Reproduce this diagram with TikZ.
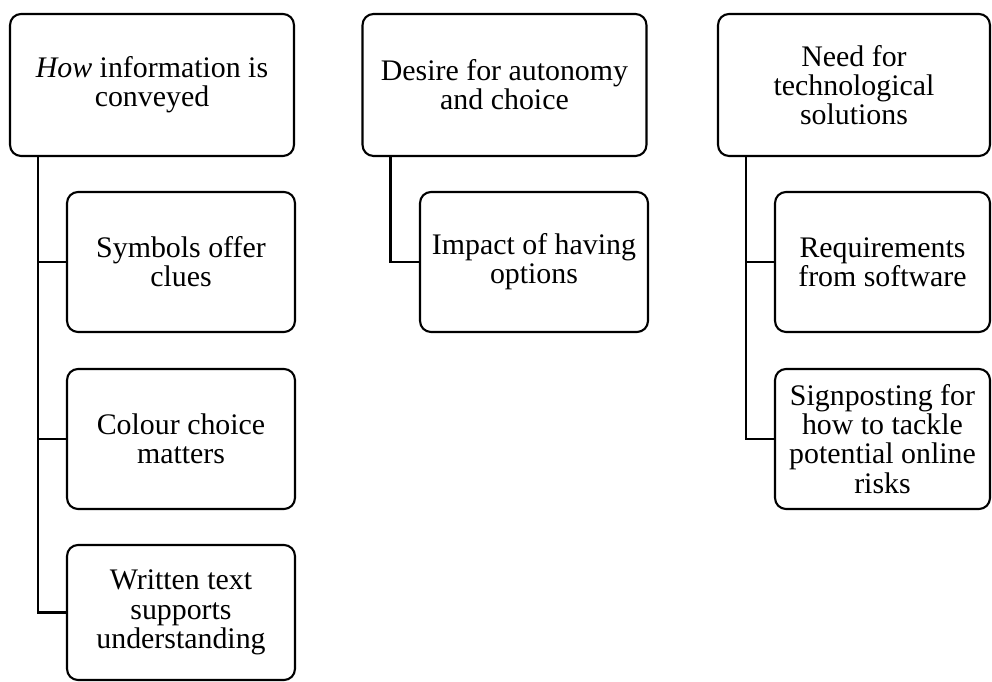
\documentclass[tikz,border=0pt]{standalone}
\usepackage{fontspec}
\setmainfont{Liberation Serif}
\usetikzlibrary{calc, positioning}

\tikzset{
    themebox/.style={
        draw=black,
        line width=1.2pt,
        rounded corners=0.22cm,
        align=center,
        inner sep=0pt,
        minimum width=5.68cm,
        minimum height=2.84cm,
        font=\fontsize{17}{16.6}\selectfont,
    },
    subbox/.style={
        themebox,
        minimum width=4.56cm,
        minimum height=2.8cm,
    },
    branch/.style={line width=1.4pt},
}

\begin{document}
\begin{tikzpicture}[x=0.02cm, y=-0.02cm]

    \useasboundingbox (0,0) rectangle (992,682);

    \def\ytop{85}
    \def\yone{262}
    \def\ytwo{439}
    \def\ythree{612.5}

    \node[themebox] (how) at (152,\ytop) {\emph{How} information is\\conveyed};
    \node[subbox] (symbols) at (181,\yone) {Symbols offer\\clues};
    \node[subbox] (colour) at (181,\ytwo) {Colour choice\\matters};
    \node[subbox, minimum height=2.7cm] (written) at (181,\ythree)
        {Written text\\supports\\understanding};

    \node[themebox] (desire) at (504.5,\ytop) {Desire for autonomy\\and choice};
    \node[subbox] (impact) at (534,\yone) {Impact of having\\options};

    \node[themebox, minimum width=5.44cm] (need) at (854,\ytop)
        {Need for\\technological\\solutions};
    \node[subbox, minimum width=4.3cm] (requirements) at (882.5,\yone)
        {Requirements\\from software};
    \node[subbox, minimum width=4.3cm] (signposting) at (882.5,\ytwo)
        {Signposting for\\how to tackle\\potential online\\risks};

    \draw[branch] ([xshift=0.58cm]how.south west) |- (symbols.west);
    \draw[branch] ([xshift=0.58cm]how.south west) |- (colour.west);
    \draw[branch] ([xshift=0.58cm]how.south west) |- (written.west);

    \draw[branch] ([xshift=0.58cm]desire.south west) |- (impact.west);

    \draw[branch] ([xshift=0.58cm]need.south west) |- (requirements.west);
    \draw[branch] ([xshift=0.58cm]need.south west) |- (signposting.west);

\end{tikzpicture}
\end{document}
